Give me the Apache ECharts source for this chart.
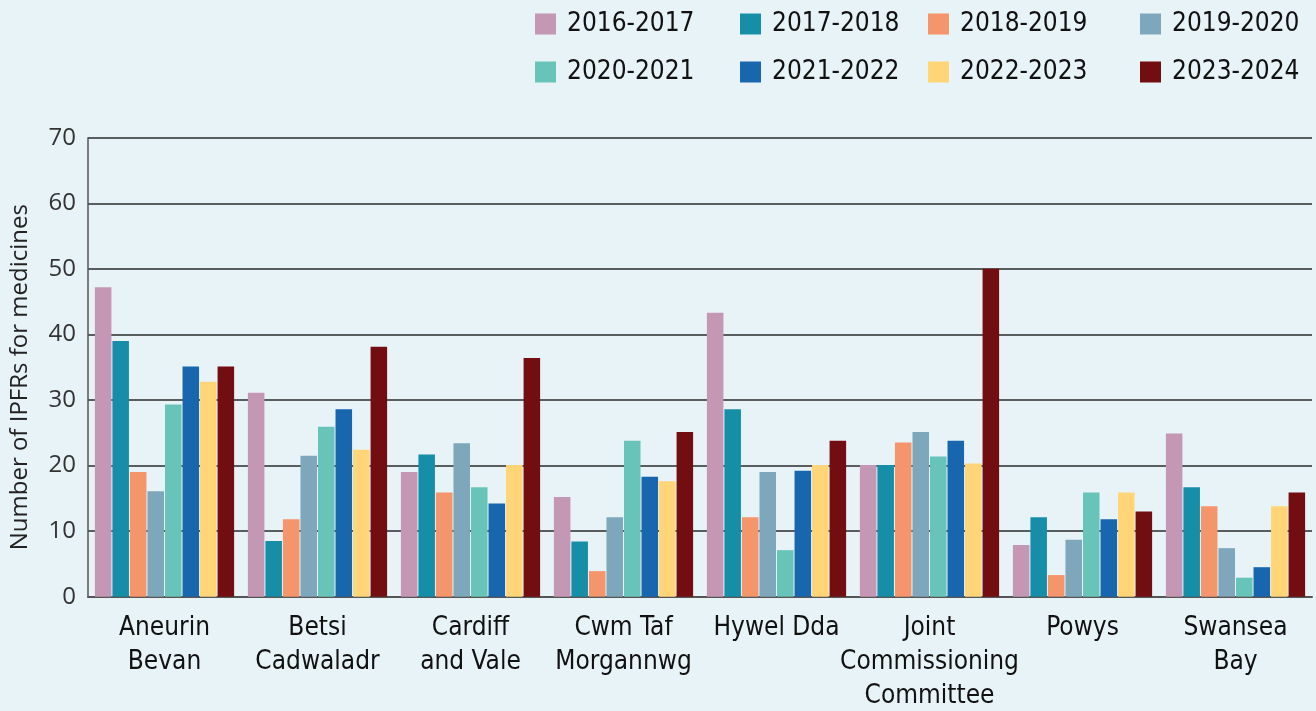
<!DOCTYPE html>
<html>
<head>
<meta charset="utf-8">
<script src="https://cdn.jsdelivr.net/npm/echarts@6/dist/echarts.min.js"></script>
<style>
html, body { margin: 0; padding: 0; background: #e8f3f8; }
#chart { width: 1316px; height: 711px; }
</style>
</head>
<body>
<div id="chart"></div>
<script>
// health boards (x axis)
var boards = ['Aneurin\nBevan', 'Betsi\nCadwaladr', 'Cardiff\nand Vale', 'Cwm Taf\nMorgannwg',
	'Hywel Dda', 'Joint\nCommissioning\nCommittee', 'Powys', 'Swansea\nBay'];

var years = ['2016-2017', '2017-2018', '2018-2019', '2019-2020',
	'2020-2021', '2021-2022', '2022-2023', '2023-2024'];

// number of IPFRs per year, one value per board
var y1617 = [47.2, 31.1, 19.0, 15.2, 43.3, 20.1, 7.9, 24.9];
var y1718 = [39.0, 8.5, 21.7, 8.4, 28.6, 20.1, 12.1, 16.7];
var y1819 = [19.0, 11.8, 15.9, 3.9, 12.1, 23.5, 3.3, 13.8];
var y1920 = [16.1, 21.5, 23.4, 12.1, 19.0, 25.1, 8.7, 7.4];
var y2021 = [29.3, 25.9, 16.7, 23.8, 7.1, 21.4, 15.9, 2.9];
var y2122 = [35.1, 28.6, 14.2, 18.3, 19.2, 23.8, 11.8, 4.5];
var y2223 = [32.8, 22.4, 20.1, 17.6, 20.1, 20.3, 15.9, 13.8];
var y2324 = [35.1, 38.1, 36.4, 25.1, 23.8, 50.0, 13.0, 15.9];

var yTicks = [0, 10, 20, 30, 40, 50, 60, 70];

var colors = ['#c497b5', '#168ea8', '#f4956b', '#7fa7bb',
	'#68c4b9', '#1766ae', '#ffd577', '#720e11'];

var narrow = '"Liberation Sans Narrow", "DejaVu Sans Condensed", sans-serif';

var myChart = echarts.init(document.getElementById('chart'));

var allData = [y1617, y1718, y1819, y1920, y2021, y2122, y2223, y2324];
var series = [];
for (var i = 0; i < years.length; i++) {
	series.push({
		name: years[i],
		type: 'bar',
		data: allData[i],
		barGap: '6%',
		barCategoryGap: '9%',
		itemStyle: { color: colors[i] }
	});
}

// legend: 4 columns of 2 rows
var legendLeft = [535, 740, 928, 1140];
var legends = [];
for (var c = 0; c < 4; c++) {
	legends.push({
		orient: 'vertical',
		left: legendLeft[c],
		top: 11,
		padding: 0,
		itemWidth: 21,
		itemHeight: 21,
		itemGap: 22,
		icon: 'rect',
		selectedMode: false,
		data: [years[c], years[c + 4]],
		textStyle: {
			fontFamily: narrow,
			fontSize: 26,
			lineHeight: 22,
			color: '#111',
			padding: [0, 0, 0, 6]
		}
	});
}

var option = {
	backgroundColor: '#e8f3f8',
	animation: false,
	color: colors,
	legend: legends,
	grid: {
		left: 88,
		right: 4,
		top: 137.7,
		bottom: 114.3,
		containLabel: false,
		outerBoundsMode: 'none'
	},
	xAxis: [{
		type: 'category',
		data: boards,
		axisLine: { lineStyle: { color: '#555', width: 2 } },
		axisTick: {
			length: 20,
			lineStyle: { color: '#333', width: 1.5 },
			interval: function (idx) { return idx > 0; }
		},
		axisLabel: {
			interval: 0,
			margin: 15,
			fontFamily: narrow,
			fontSize: 26,
			lineHeight: 34,
			color: '#111'
		}
	}, {
		// upward half of the separators
		type: 'category',
		data: boards,
		position: 'bottom',
		axisLine: { show: false },
		axisTick: {
			inside: true,
			length: 21,
			lineStyle: { color: '#333', width: 1.5 },
			interval: function (idx) { return idx > 0; }
		},
		axisLabel: { show: false }
	}],
	yAxis: {
		type: 'value',
		min: yTicks[0],
		max: yTicks[yTicks.length - 1],
		interval: 10,
		name: 'Number of IPFRs for medicines',
		nameLocation: 'middle',
		nameGap: 56,
		nameTextStyle: {
			fontFamily: '"Open Sans", sans-serif',
			fontSize: 24,
			color: '#222',
			padding: [0, 20, 0, 0]
		},
		axisLine: { show: true, lineStyle: { color: '#555', width: 1.5 } },
		axisTick: { show: false },
		axisLabel: {
			margin: 12,
			fontFamily: '"Open Sans", sans-serif',
			fontSize: 24,
			color: '#333'
		},
		splitLine: { lineStyle: { color: '#2b2b2b', width: 1.5 } }
	},
	series: series
};

myChart.setOption(option);
window.onresize = myChart.resize;
</script>
</body>
</html>
